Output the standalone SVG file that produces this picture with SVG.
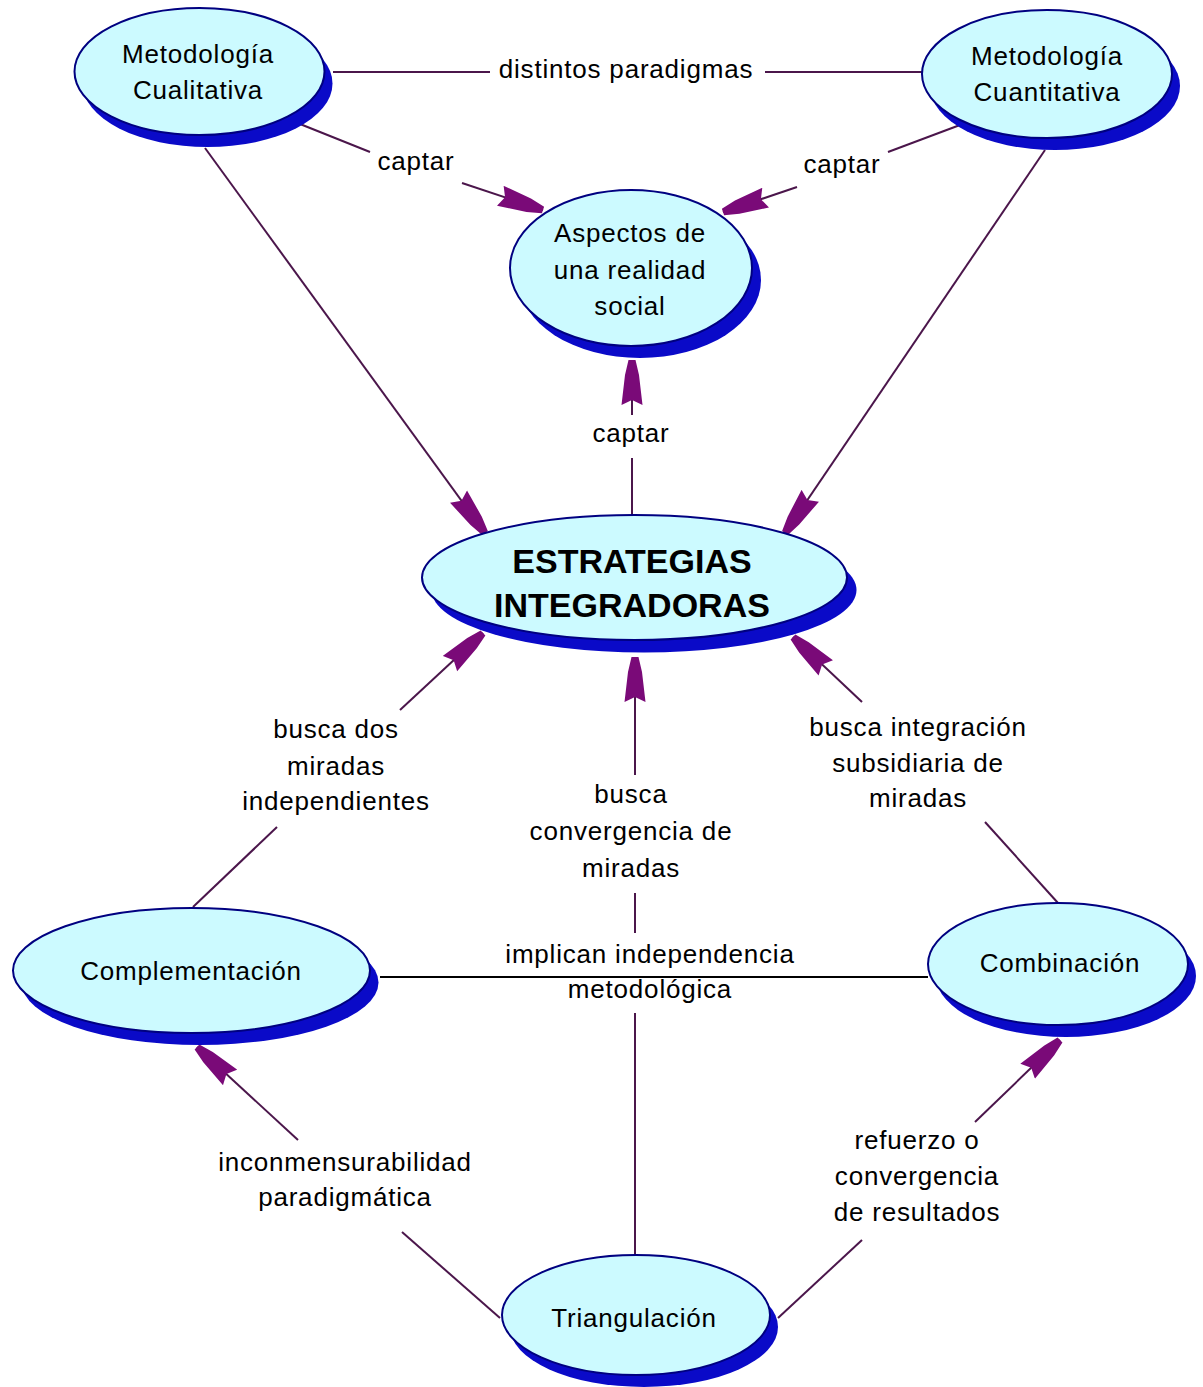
<svg xmlns="http://www.w3.org/2000/svg" width="1203" height="1387" viewBox="0 0 1203 1387">
<style>
.bg{fill:#ffffff}
.sh{fill:#0a0ac8}
.nd{fill:#ccfaff;stroke:#000080;stroke-width:2}
.tx{font-family:"Liberation Sans",Arial,sans-serif;font-size:26px;letter-spacing:0.8px;fill:#000;text-anchor:middle}
.big{font-family:"Liberation Sans",Arial,sans-serif;font-size:34px;font-weight:bold;fill:#000;text-anchor:middle}
.ln{fill:none;stroke:#4b164b;stroke-width:2}
.ar{fill:none;stroke:#4b164b;stroke-width:2;marker-end:url(#ah)}
.bk{fill:none;stroke:#000;stroke-width:2}
</style>
<defs>
<marker id="ah" markerUnits="userSpaceOnUse" viewBox="0 -11 46 22" refX="45" refY="0" markerWidth="46" markerHeight="22" orient="auto">
<path d="M0,-10.5 L30,-7 L45,-3.5 L45,3.5 L30,7 L0,10.5 L5,0 Z" fill="#7a0a78"/>
</marker>
</defs>
<rect class="bg" x="0" y="0" width="1203" height="1387"/>

<g id="connectors">
<path class="ln" d="M333,72 H490"/>
<path class="ln" d="M765,72 H922"/>
<path class="ln" d="M300,124 L370,152"/>
<path class="ar" d="M462,183 L543,210"/>
<path class="ln" d="M960,125 L888,152"/>
<path class="ar" d="M797,187 L723,212"/>
<path class="ln" d="M632,515 V458"/>
<path class="ar" d="M632,415 V360"/>
<path class="ar" d="M205,148 L485,533"/>
<path class="ar" d="M1045,150 L785,533"/>
<path class="ln" d="M193,907 L277,827"/>
<path class="ar" d="M400,710 L483,633"/>
<path class="ar" d="M635,775 V657"/>
<path class="ln" d="M635,893 V933"/>
<path class="ln" d="M635,1013 V1255"/>
<path class="ln" d="M1058,903 L985,822"/>
<path class="ar" d="M862,702 L793,637"/>
<path class="ln" d="M500,1318 L402,1232"/>
<path class="ar" d="M298,1140 L197,1047"/>
<path class="ln" d="M778,1318 L862,1240"/>
<path class="ar" d="M975,1122 L1060,1040"/>
<path class="bk" d="M380,977 H928"/>
</g>

<g id="labels">
<text class="tx" x="626" y="78">distintos paradigmas</text>
<text class="tx" x="416" y="170">captar</text>
<text class="tx" x="842" y="173">captar</text>
<text class="tx" x="631" y="442">captar</text>
<text class="tx" x="336"><tspan x="336" y="738">busca dos</tspan><tspan x="336" y="775">miradas</tspan><tspan x="336" y="810">independientes</tspan></text>
<text class="tx" x="631"><tspan x="631" y="803">busca</tspan><tspan x="631" y="840">convergencia de</tspan><tspan x="631" y="877">miradas</tspan></text>
<text class="tx" x="918"><tspan x="918" y="736">busca integración</tspan><tspan x="918" y="772">subsidiaria de</tspan><tspan x="918" y="807">miradas</tspan></text>
<text class="tx" x="650"><tspan x="650" y="963">implican independencia</tspan><tspan x="650" y="998">metodológica</tspan></text>
<text class="tx" x="345"><tspan x="345" y="1171">inconmensurabilidad</tspan><tspan x="345" y="1206">paradigmática</tspan></text>
<text class="tx" x="917"><tspan x="917" y="1149">refuerzo o</tspan><tspan x="917" y="1185">convergencia</tspan><tspan x="917" y="1221">de resultados</tspan></text>
</g>

<g id="n-cualitativa">
<ellipse class="sh" cx="207.5" cy="83.5" rx="125" ry="63.5"/>
<ellipse class="nd" cx="199.5" cy="71.5" rx="125" ry="63.5"/>
<text class="tx"><tspan x="198" y="63">Metodología</tspan><tspan x="198" y="99">Cualitativa</tspan></text>
</g>
<g id="n-cuantitativa">
<ellipse class="sh" cx="1055" cy="86" rx="125" ry="64"/>
<ellipse class="nd" cx="1047" cy="74" rx="125" ry="64"/>
<text class="tx"><tspan x="1047" y="65">Metodología</tspan><tspan x="1047" y="101">Cuantitativa</tspan></text>
</g>
<g id="n-aspectos">
<ellipse class="sh" cx="640" cy="280" rx="121" ry="78"/>
<ellipse class="nd" cx="631" cy="268" rx="121" ry="78"/>
<text class="tx"><tspan x="630" y="242">Aspectos de</tspan><tspan x="630" y="279">una realidad</tspan><tspan x="630" y="315">social</tspan></text>
</g>
<g id="n-estrategias">
<ellipse class="sh" cx="644" cy="590" rx="212.5" ry="62.5"/>
<ellipse class="nd" cx="634.5" cy="577.5" rx="212.5" ry="62.5"/>
<text class="big"><tspan x="632" y="573">ESTRATEGIAS</tspan><tspan x="632" y="617">INTEGRADORAS</tspan></text>
</g>
<g id="n-complementacion">
<ellipse class="sh" cx="200" cy="982.5" rx="178.5" ry="62.5"/>
<ellipse class="nd" cx="191.5" cy="970.5" rx="178.5" ry="62.5"/>
<text class="tx" x="191" y="980">Complementación</text>
</g>
<g id="n-combinacion">
<ellipse class="sh" cx="1066" cy="976" rx="130" ry="61"/>
<ellipse class="nd" cx="1058" cy="964" rx="130" ry="61"/>
<text class="tx" x="1060" y="972">Combinación</text>
</g>
<g id="n-triangulacion">
<ellipse class="sh" cx="644" cy="1327" rx="134" ry="60"/>
<ellipse class="nd" cx="636" cy="1315" rx="134" ry="60"/>
<text class="tx" x="634" y="1327">Triangulación</text>
</g>
</svg>
